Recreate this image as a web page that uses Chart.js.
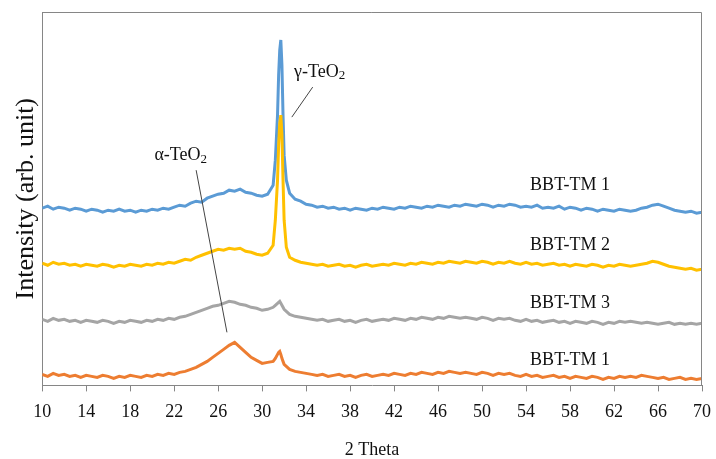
<!DOCTYPE html>
<html>
<head>
<meta charset="utf-8">
<script src="https://cdn.jsdelivr.net/npm/chart.js@4/dist/chart.umd.min.js"></script>
<style>
  html, body { margin: 0; padding: 0; background: #fff; }
  #wrap { width: 716px; height: 459px; }
</style>
</head>
<body>
<div id="wrap"><canvas id="xrdChart"></canvas></div>
<script>
// 2 theta positions (degrees), finer around the gamma-TeO2 peak
const twoTheta = [
  10, 10.5, 11, 11.5, 12, 12.5, 13, 13.5, 14, 14.5,
  15, 15.5, 16, 16.5, 17, 17.5, 18, 18.5, 19, 19.5,
  20, 20.5, 21, 21.5, 22, 22.5, 23, 23.5, 24, 24.5,
  25, 25.5, 26, 26.5, 27, 27.5, 28, 28.5, 29, 29.5,
  30, 30.5,
  31, 31.2, 31.4, 31.5, 31.6, 31.7, 31.8, 31.9, 32, 32.2, 32.5,
  33, 33.5, 34, 34.5, 35, 35.5, 36, 36.5, 37, 37.5,
  38, 38.5, 39, 39.5, 40, 40.5, 41, 41.5, 42, 42.5,
  43, 43.5, 44, 44.5, 45, 45.5, 46, 46.5, 47, 47.5,
  48, 48.5, 49, 49.5, 50, 50.5, 51, 51.5, 52, 52.5,
  53, 53.5, 54, 54.5, 55, 55.5, 56, 56.5, 57, 57.5,
  58, 58.5, 59, 59.5, 60, 60.5, 61, 61.5, 62, 62.5,
  63, 63.5, 64, 64.5, 65, 65.5, 66, 66.5, 67, 67.5,
  68, 68.5, 69, 69.5, 70
];

// intensities (arb. unit, already stacked with offsets)
const tm1Top = [
  177, 179, 176, 178, 177, 175, 177, 176, 174, 176,
  175, 173, 175, 174, 176, 174, 175, 173, 175, 174,
  176, 175, 177, 176, 178, 180, 179, 182, 184, 183,
  187, 189, 191, 192, 195, 194, 196, 193, 192, 190,
  189, 191,
  200, 225, 270, 310, 335, 345, 320, 270, 230, 205, 192,
  186, 184, 181, 180, 178, 179, 177, 178, 176, 177,
  175, 177, 176, 175, 177, 176, 178, 177, 176, 178,
  177, 179, 178, 177, 179, 178, 180, 179, 178, 180,
  179, 181, 180, 179, 181, 180, 178, 180, 179, 181,
  180, 178, 179, 178, 180, 177, 178, 177, 179, 176,
  178, 177, 175, 177, 176, 174, 176, 175, 174, 176,
  175, 174, 175, 177, 178, 180, 181, 179, 177, 175,
  174, 173, 174, 172, 173
];
const tm2 = [
  122, 120, 123, 121, 122, 120, 121, 119, 121, 120,
  119, 121, 120, 118, 120, 119, 121, 120, 119, 121,
  120, 122, 121, 123, 122, 124, 126, 125, 128, 130,
  132, 134, 136, 135, 137, 136, 137, 134, 133, 131,
  130, 132,
  140, 165, 205, 240, 262, 270, 250, 205, 165, 138, 128,
  125, 123, 122, 121, 120, 121, 119, 120, 121, 119,
  120, 118, 120, 121, 119, 120, 121, 120, 122, 121,
  120, 122, 121, 123, 122, 121, 123, 122, 124, 123,
  122, 124, 123, 122, 124, 123, 121, 123, 122, 124,
  122, 121, 123, 121, 122, 120, 121, 122, 120, 121,
  119, 121, 120, 119, 121, 120, 118, 120, 119, 121,
  120, 119, 120, 121, 122, 124, 123, 121, 119, 118,
  117, 116, 117, 115, 116
];
const tm3 = [
  66, 64, 67, 65, 66, 64, 65, 63, 65, 64,
  63, 65, 64, 62, 64, 63, 65, 64, 63, 65,
  64, 66, 65, 67, 66, 68, 69, 71, 73, 75,
  77, 79, 80, 82, 84, 83, 81, 80, 78, 77,
  75, 76,
  78, 80, 82, 83, 84, 82, 80, 78, 76, 74, 71,
  69, 68, 67, 66, 65, 66, 64, 65, 66, 64,
  65, 63, 65, 66, 64, 65, 66, 65, 67, 66,
  65, 67, 66, 68, 67, 66, 68, 67, 69, 68,
  67, 68, 67, 66, 68, 67, 65, 67, 66, 67,
  65, 64, 66, 64, 65, 63, 64, 65, 63, 64,
  62, 64, 63, 62, 64, 63, 61, 63, 62, 64,
  63, 64, 63, 62, 63, 62, 61, 62, 63, 61,
  62, 61, 62, 61, 62
];
const tm1Bottom = [
  11, 9, 12, 10, 11, 9, 10, 8, 10, 9,
  8, 10, 9, 7, 9, 8, 10, 9, 8, 10,
  9, 11, 10, 12, 11, 13, 14, 16, 18, 21,
  24, 28, 32, 36, 40, 43, 38, 33, 28, 25,
  22, 23,
  24, 27, 31, 33, 34, 31, 27, 24, 21, 19, 16,
  14, 13, 12, 11, 10, 11, 9, 10, 11, 9,
  10, 8, 10, 11, 9, 10, 11, 10, 12, 11,
  10, 12, 11, 13, 12, 11, 13, 12, 14, 13,
  12, 13, 12, 11, 13, 12, 10, 12, 11, 12,
  10, 9, 11, 9, 10, 8, 9, 10, 8, 9,
  7, 9, 8, 7, 9, 8, 6, 8, 7, 9,
  8, 9, 8, 10, 9, 8, 7, 8, 6, 7,
  8, 6, 7, 6, 7
];

const xTicks = [10, 14, 18, 22, 26, 30, 34, 38, 42, 46, 50, 54, 58, 62, 66, 70];

// curve labels: [text, 2theta, intensity]
const seriesLabels = [
  ['BBT-TM 1', 58, 200],
  ['BBT-TM 2', 58, 140],
  ['BBT-TM 3', 58, 82],
  ['BBT-TM 1', 58, 25]
];

// phase annotations: label, label anchor, leader line from/to
const phaseNotes = [
  { name: 'α-TeO', at: [22.6, 230], line: [[24.0, 215], [26.8, 53]], align: 'center' },
  { name: 'γ-TeO', at: [32.9, 313], line: [[34.6, 298], [32.7, 268]], align: 'left' }
];

const SERIF = '"Liberation Serif", "Times New Roman", serif';
const AXIS_GREY = '#868686';

const toPoints = (ys) => twoTheta.map((x, i) => ({ x: x, y: ys[i] }));

const textPlugin = {
  id: 'xrdText',
  afterDraw(chart) {
    const { ctx, chartArea, scales: { x, y } } = chart;
    ctx.save();

    // frame on top and right
    ctx.strokeStyle = AXIS_GREY;
    ctx.lineWidth = 1;
    ctx.beginPath();
    ctx.moveTo(chartArea.left, chartArea.top + 0.5);
    ctx.lineTo(chartArea.right - 0.5, chartArea.top + 0.5);
    ctx.lineTo(chartArea.right - 0.5, chartArea.bottom);
    ctx.stroke();

    ctx.fillStyle = '#111';
    ctx.textBaseline = 'middle';

    ctx.font = '18px ' + SERIF;
    ctx.textAlign = 'center';
    seriesLabels.forEach(([txt, tx, ty]) => {
      ctx.fillText(txt, x.getPixelForValue(tx), y.getPixelForValue(ty));
    });

    phaseNotes.forEach(n => {
      ctx.strokeStyle = '#444';
      ctx.lineWidth = 1;
      ctx.beginPath();
      ctx.moveTo(x.getPixelForValue(n.line[0][0]), y.getPixelForValue(n.line[0][1]));
      ctx.lineTo(x.getPixelForValue(n.line[1][0]), y.getPixelForValue(n.line[1][1]));
      ctx.stroke();

      ctx.font = '18px ' + SERIF;
      const w = ctx.measureText(n.name).width;
      ctx.font = '13px ' + SERIF;
      const w2 = ctx.measureText('2').width;
      let px = x.getPixelForValue(n.at[0]);
      const py = y.getPixelForValue(n.at[1]);
      if (n.align === 'center') px -= (w + w2) / 2;
      ctx.textAlign = 'left';
      ctx.font = '18px ' + SERIF;
      ctx.fillText(n.name, px, py);
      ctx.font = '13px ' + SERIF;
      ctx.fillText('2', px + w, py + 4);
    });

    ctx.restore();
  }
};

new Chart(document.getElementById('xrdChart'), {
  type: 'line',
  data: {
    datasets: [
      { label: 'BBT-TM 1', data: toPoints(tm1Top), borderColor: '#5B9BD5', order: 1 },
      { label: 'BBT-TM 2', data: toPoints(tm2), borderColor: '#FFC000', order: 0 },
      { label: 'BBT-TM 3', data: toPoints(tm3), borderColor: '#A5A5A5', order: 2 },
      { label: 'BBT-TM 1 ', data: toPoints(tm1Bottom), borderColor: '#ED7D31', order: 3 }
    ].map(d => Object.assign(d, { borderWidth: 3, pointRadius: 0, tension: 0, fill: false }))
  },
  options: {
    responsive: true,
    maintainAspectRatio: false,
    animation: false,
    layout: { padding: { left: 3, right: 14, top: 12, bottom: 0 } },
    plugins: {
      legend: { display: false },
      tooltip: { enabled: false }
    },
    scales: {
      x: {
        type: 'linear',
        min: 10,
        max: 70,
        afterBuildTicks: (axis) => { axis.ticks = xTicks.map(v => ({ value: v })); },
        // let the last label hang into the layout padding
        afterFit: (axis) => { axis.paddingRight = 0; },
        ticks: {
          color: '#111',
          padding: 10,
          maxRotation: 0,
          font: { family: SERIF, size: 18 }
        },
        grid: { display: true, drawOnChartArea: false, drawTicks: true, tickLength: 6, color: AXIS_GREY },
        border: { display: true, color: AXIS_GREY },
        title: {
          display: true,
          text: '2 Theta',
          color: '#111',
          padding: { top: 8, bottom: 0 },
          font: { family: SERIF, size: 18, lineHeight: 1 }
        }
      },
      y: {
        min: 0,
        max: 373,
        ticks: { display: false },
        grid: { display: false, drawTicks: false },
        border: { display: true, color: AXIS_GREY },
        title: {
          display: true,
          text: 'Intensity (arb. unit)',
          color: '#111',
          padding: { top: 8, bottom: 0 },
          font: { family: SERIF, size: 26 }
        }
      }
    }
  },
  plugins: [textPlugin]
});
</script>
</body>
</html>
